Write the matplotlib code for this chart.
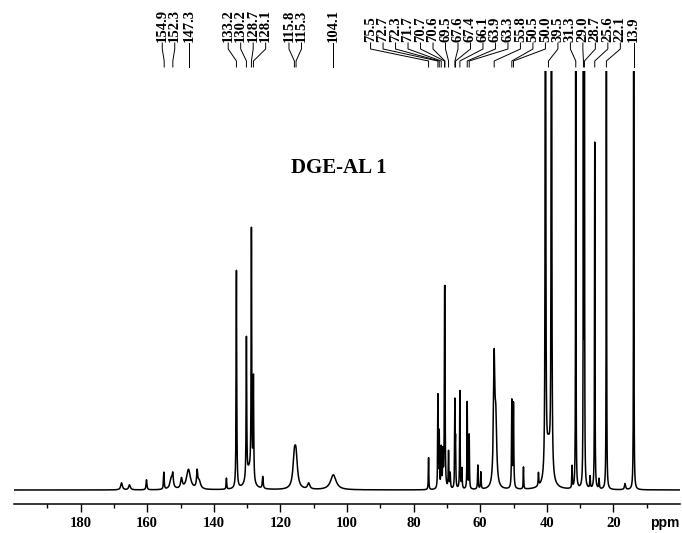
import numpy as np
import matplotlib
matplotlib.use('Agg')
import matplotlib.pyplot as plt
from matplotlib.transforms import blended_transform_factory

# 13C spectrum, peaks: shift (ppm), height, half width (ppm)
peak_ppm = [167.7, 165.3, 160.2, 155.0, 152.7, 152.3, 149.7, 147.6, 145.0, 144.4,
            136.2, 133.2, 130.2, 129.4, 128.7, 128.1, 125.3, 115.8, 115.3, 111.5,
            104.1,
            75.5, 72.7, 72.3, 71.7, 71.2, 70.7, 70.6, 69.5, 69.0, 67.6, 67.4,
            66.1, 65.5, 63.9, 63.3, 60.7, 59.8, 55.8, 55.3, 50.5, 50.0, 47.0,
            42.5, 40.4, 39.5, 38.6, 32.4, 31.3, 29.0, 28.7, 27.0, 25.6, 24.3,
            22.1, 16.5, 13.9]
peak_height = [7, 5, 10, 17, 12, 10, 10, 20, 16, 8,
               11, 218, 141, 18, 247, 102, 12, 28, 28, 6,
               15,
               32, 93, 55, 40, 35, 140, 140, 37, 15, 85, 43,
               98, 20, 87, 54, 24, 17, 125, 60, 87, 84, 22,
               13, 1000, 40, 1000, 22, 800, 800, 700, 12, 347, 10,
               800, 6, 800]
peak_hwhm = [0.3, 0.3, 0.15, 0.12, 0.5, 0.15, 0.3, 0.7, 0.2, 0.5,
             0.1, 0.1, 0.1, 1.0, 0.1, 0.1, 0.15, 0.5, 0.5, 0.4,
             1.0,
             0.08, 0.08, 0.08, 0.1, 0.1, 0.08, 0.08, 0.1, 0.1, 0.08, 0.08,
             0.08, 0.1, 0.08, 0.08, 0.1, 0.1, 0.25, 0.3, 0.1, 0.1, 0.08,
             0.1, 0.08, 0.8, 0.08, 0.08, 0.05, 0.05, 0.05, 0.1, 0.07, 0.1,
             0.05, 0.2, 0.05]

# shifts written above the spectrum
label_ppm = [154.9, 152.3, 147.3, 133.2, 130.2, 128.7, 128.1, 115.8, 115.3, 104.1,
             75.5, 72.7, 72.3, 71.7, 70.7, 70.6, 69.5, 67.6, 67.4, 66.1, 63.9,
             63.3, 55.8, 50.5, 50.0, 39.5, 31.3, 29.0, 28.7, 25.6, 22.1, 13.9]

title = 'DGE-AL 1'

# sum of lorentzians
ppm = np.linspace(0, 200, 40001)
spec = np.zeros_like(ppm)
for c, h, w in zip(peak_ppm, peak_height, peak_hwhm):
    spec += h * w**2 / ((ppm - c)**2 + w**2)


def spread(pos, d):
    # push labels apart so neighbours are at least d apart, clusters stay centred
    groups = [[p] for p in pos]
    while True:
        places = []
        for g in groups:
            m = np.mean(g)
            n = len(g)
            places.append([m + d * ((n - 1) / 2.0 - i) for i in range(n)])
        merged = False
        for k in range(len(groups) - 1):
            if places[k][-1] - places[k + 1][0] < d:
                groups[k] = groups[k] + groups[k + 1]
                del groups[k + 1]
                merged = True
                break
        if not merged:
            return [p for pl in places for p in pl]


W, H = 682, 533
fig = plt.figure(figsize=(W / 100, H / 100), dpi=100)
ax = fig.add_axes([14 / W, 1 - 504 / H, 666 / W, (504 - 71) / H])

ax.plot(ppm, spec, color='k', lw=1.1)
ax.set_xlim(200, 0)
ax.set_ylim(-14, 419)

for s in ['left', 'right', 'top']:
    ax.spines[s].set_visible(False)
ax.spines['bottom'].set_linewidth(1.1)
ax.set_yticks([])
ax.set_xticks(np.arange(20, 200, 20))
ax.set_xticks(np.arange(10, 200, 10), minor=True)
ax.tick_params(axis='x', which='major', direction='out', length=5.5, width=1, pad=4)
ax.tick_params(axis='x', which='minor', direction='out', length=3, width=1)
for t in ax.get_xticklabels():
    t.set_fontfamily('Liberation Serif')
    t.set_fontweight('bold')
    t.set_fontsize(10.5)

fig.text(665 / W, 1 - 527 / H, 'ppm', ha='center', va='baseline',
         family='Liberation Sans', weight='bold', fontsize=10)
fig.text(339 / W, 1 - 168 / H, title, ha='center', va='center',
         family='Liberation Serif', weight='bold', fontsize=15)

# peak labels with leader lines
trans = blended_transform_factory(ax.transData, fig.transFigure)
lab_x = spread(label_ppm, 3.75)
for v, lx in zip(label_ppm, lab_x):
    ax.plot([lx, lx, v, v], [1 - 43 / H, 1 - 49 / H, 1 - 61 / H, 1 - 67 / H],
            color='k', lw=0.7, transform=trans, clip_on=False)
    ax.text(lx, 1 - 42 / H, '%.1f' % v, transform=trans, rotation=90,
            ha='center', va='bottom', family='Liberation Serif',
            weight='bold', fontsize=10.5)

fig.savefig('out.png', dpi=100)
